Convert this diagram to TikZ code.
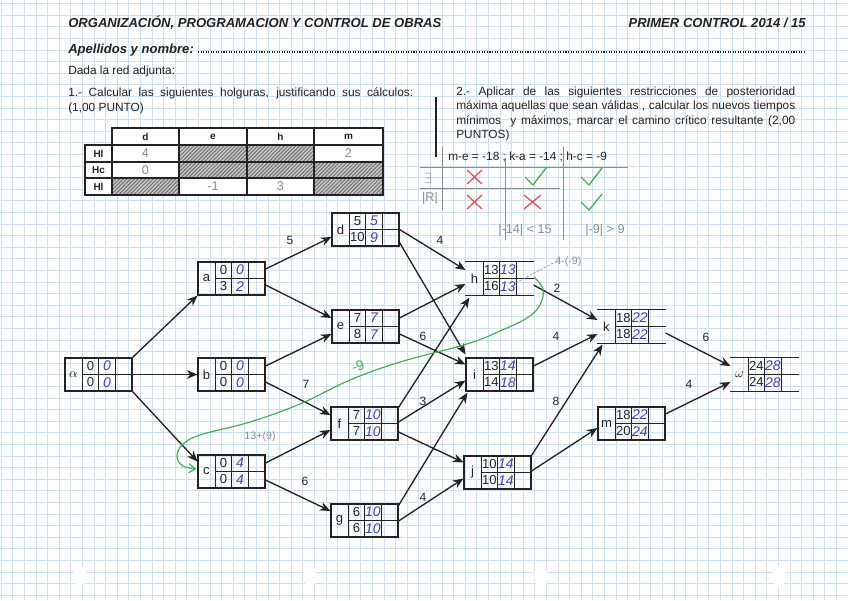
\documentclass[tikz,border=0pt]{standalone}
\usepackage{fontspec}
\setmainfont{Liberation Sans}
\usetikzlibrary{calc,arrows.meta,patterns.meta}
\definecolor{gridblue}{RGB}{203,226,243}
\definecolor{ink}{RGB}{35,35,35}
\definecolor{hand}{RGB}{72,62,178}
\definecolor{pencil}{RGB}{140,140,140}
\definecolor{greenpen}{RGB}{70,175,85}
\definecolor{redpen}{RGB}{225,80,95}
\tikzset{
  gridline/.style={draw=gridblue, line width=0.45pt},
  nbox/.style={minimum width=50.25pt, minimum height=24.75pt, inner sep=0pt, line width=0.8pt},
  inner/.style={draw=ink, line width=0.8pt},
  arr/.style={-{Stealth[length=8pt,width=6.5pt]}, line width=1pt, draw=ink},
  lbl/.style={font=\fontsize{9}{10}\selectfont, text=ink, inner sep=0pt},
  num/.style={font=\fontsize{9.8}{10}\selectfont, text=ink, inner sep=0pt},
  hnum/.style={font=\fontsize{10.5}{10}\selectfont\itshape, text=hand, inner sep=0pt},
  head/.style={anchor=base west, inner sep=0pt, font=\fontsize{9.8}{11}\selectfont\bfseries\itshape, text=ink},
  body/.style={anchor=base west, inner sep=0pt, font=\fontsize{8.9}{10}\selectfont, text=ink},
  tcell/.style={inner sep=0pt, font=\fontsize{7.5}{9}\selectfont\bfseries, text=ink},
  pen/.style={inner sep=0pt, font=\fontsize{9.5}{10}\selectfont, text=pencil},
  hatch/.style={fill=gray!45, postaction={pattern={Lines[angle=45,distance=2pt,line width=0.75pt]}, pattern color=gray!90!black}},
}
% #1 outline, #2 name, #3 x, #4 y (top left, px), #5 letter, #6 top, #7 top hand, #8 bottom, #9 bottom hand
\newcommand{\netbox}[9][draw=ink]{%
  \node[nbox,#1] (#2) at ({#3+33.5},{#4+16.5}) {};
  \draw[inner] (#2.north west) -- (#2.north east) (#2.south west) -- (#2.south east)
    ($(#2.north west)+(18,0)$) -- ($(#2.south west)+(18,0)$)
    ($(#2.north west)+(34,0)$) -- ($(#2.south west)+(34,0)$)
    ($(#2.north west)+(51,0)$) -- ($(#2.south west)+(51,0)$)
    ($(#2.west)+(18,0)$) -- (#2.east);
  \node[num] (#2-l) at ($(#2.west)+(9,0)$) {#5};
  \node[num] (#2-t1) at ($(#2.north west)+(26,8.25)$) {#6};
  \node[hnum] (#2-t2) at ($(#2.north west)+(42.5,8.25)$) {#7};
  \node[num] (#2-b1) at ($(#2.north west)+(26,24.75)$) {#8};
  \node[hnum] (#2-b2) at ($(#2.north west)+(42.5,24.75)$) {#9};
}
\begin{document}
\begin{tikzpicture}[x=0.75pt,y=-0.75pt]
\useasboundingbox (0,0) rectangle (848,600);
\fill[white] (0,0) rectangle (848,600);
% graph paper
\foreach \i in {0,...,73} \draw[gridline] ({1.1+11.6*\i},0) -- ({1.1+11.6*\i},600);
\foreach \j in {0,...,51} \draw[gridline] (0,{3.5+11.6*\j}) -- (848,{3.5+11.6*\j});
% punch holes
\foreach \px in {80,310,541,779} \fill[white] (\px,576) ellipse (7 and 10);

% header
\node[head] (title) at (68,27) {ORGANIZACIÓN, PROGRAMACION Y CONTROL DE OBRAS};
\node[head, anchor=base east] (ctrl) at (806,27) {PRIMER CONTROL 2014 / 15};
\node[head] (apell) at (68,53) {Apellidos y nombre:};
\coordinate (dotend) at (806,52);
\draw[ink, line width=1pt, dash pattern=on 0.8pt off 1.1pt] ($(apell.base east)+(4,-1)$) -- (dotend);
\node[body] (dada) at (68,74) {Dada la red adjunta:};
\node[body] (q1a) at (68,96) {\makebox[258.75pt][s]{1.- Calcular las siguientes holguras, justificando sus cálculos:}};
\node[body] (q1b) at (68,111) {(1,00 PUNTO)};
\node[body] (q2a) at (456,95) {\makebox[254.25pt][s]{2.- Aplicar de las siguientes restricciones de posterioridad}};
\node[body] (q2b) at (456,109.5) {\makebox[254.25pt][s]{máxima aquellas que sean válidas , calcular los nuevos tiempos}};
\node[body] (q2c) at (456,124) {\makebox[254.25pt][s]{mínimos \ y máximos, marcar el camino crítico resultante (2,00}};
\node[body] (q2d) at (456,138.5) {PUNTOS)};
\node[body] (restr) at (448,160) {m-e = -18 ; k-a = -14 ; h-c = -9};
\draw[ink, line width=1.3pt] (436,97) -- (436,157);

% pencil check table
\draw[pencil, line width=0.5pt] (442,147) -- (442,210) (505,158) -- (505,240) (563,147) -- (563,240)
  (420,167) -- (628,167) (420,188) -- (560,188);
\node[pen, font=\fontsize{11}{11}\selectfont] (exists) at (428,178) {$\exists$};
\node[pen] (absr) at (430,198) {|R|};
\draw[redpen, line width=1pt] (467,170) -- (482,184) (482,170) -- (467,184);
\draw[redpen, line width=1pt] (467,195) -- (482,209) (482,195) -- (467,209);
\draw[redpen, line width=1pt] (524,195) -- (541,209) (541,195) -- (524,209);
\draw[greenpen, line width=1pt] (525,177) -- (533,185) -- (546,168);
\draw[greenpen, line width=1pt] (581,177) -- (589,185) -- (602,168);
\draw[greenpen, line width=1pt] (581,202) -- (589,210) -- (602,194);
\node[pen] (cmp1) at (525,230) {|-14| < 15};
\node[pen] (cmp2) at (605,230) {|-9| > 9};

% slack table
\fill[white] (112,128) rectangle (383,145);
\fill[white] (85,145) rectangle (383,195);
\fill[hatch] (179,145) rectangle (314,162);
\fill[hatch] (179,162) rectangle (383,178);
\fill[hatch] (112,178) rectangle (179,195);
\fill[hatch] (314,178) rectangle (383,195);
\draw[ink, line width=0.9pt] (112,128) rectangle (383,195) (85,145) rectangle (112,195)
  (179,128) -- (179,195) (247,128) -- (247,195) (314,128) -- (314,195)
  (85,162) -- (383,162) (85,178) -- (383,178) (112,145) -- (383,145);
\node[tcell] (th-d) at (145.5,136.5) {d};
\node[tcell] (th-e) at (213,136.5) {e};
\node[tcell] (th-h) at (280.5,136.5) {h};
\node[tcell] (th-m) at (348.5,136.5) {m};
\node[tcell] (tr-1) at (98.5,153.5) {Hl};
\node[tcell] (tr-2) at (98.5,170) {Hc};
\node[tcell] (tr-3) at (98.5,186.5) {Hl};
\node[pen] (tv-1) at (145.5,153.5) {4};
\node[pen] (tv-2) at (348.5,153.5) {2};
\node[pen] (tv-3) at (145.5,170) {0};
\node[pen] (tv-4) at (213,186.5) {-1};
\node[pen] (tv-5) at (280.5,186.5) {3};

% network nodes
\netbox{al}{65}{358}{$\alpha$}{0}{0}{0}{0}
\netbox{a}{198}{262}{a}{0}{0}{3}{2}
\netbox{b}{198}{358}{b}{0}{0}{0}{0}
\netbox{c}{198}{455}{c}{0}{4}{0}{4}
\netbox{d}{332}{213}{d}{5}{5}{10}{9}
\netbox{e}{332}{310}{e}{7}{7}{8}{7}
\netbox{f}{331}{407}{f}{7}{10}{7}{10}
\netbox{g}{331}{504}{g}{6}{10}{6}{10}
\netbox[draw=none]{h}{466}{262}{h}{13}{13}{16}{13}
\netbox{i}{466}{358}{i}{13}{14}{14}{18}
\netbox{j}{464}{456}{j}{10}{14}{10}{14}
\netbox[draw=none]{k}{598}{310}{k}{18}{22}{18}{22}
\netbox{m}{598}{407}{m}{18}{22}{20}{24}
\netbox[draw=none]{om}{731}{358}{$\omega$}{24}{28}{24}{28}

% connectors
\draw[arr] (al.north east) -- (a.south west);
\draw[arr] (al.east) -- (b.west);
\draw[arr] (al.south east) -- ($(c.west)+(0,-10)$);
\draw[arr] ($(a.east)+(0,-9.5)$) -- ($(d.west)+(0,7.5)$);
\draw[arr] ($(a.east)+(0,6.5)$) -- ($(e.west)+(0,-8.5)$);
\draw[arr] ($(b.east)+(0,-8.5)$) -- ($(e.west)+(0,7.5)$);
\draw[arr] ($(b.east)+(0,7.5)$) -- ($(f.west)+(0,-8.5)$);
\draw[arr] ($(c.east)+(0,-8.5)$) -- ($(f.west)+(0,6.5)$);
\draw[arr] ($(c.east)+(0,8.5)$) -- ($(g.west)+(0,-9.5)$);
\draw[arr] (d.east) -- ($(h.west)+(0,-8.5)$);
\draw[arr] ($(d.east)+(0,13)$) -- ($(i.north west)+(0,-3)$);
\draw[arr] ($(e.east)+(0,-8.5)$) -- ($(h.west)+(0,5.5)$);
\draw[arr] ($(e.east)+(0,7.5)$) -- ($(i.west)+(0,-10)$);
\draw[arr] ($(f.north east)+(0,1)$) -- ($(h.south west)+(4,2)$);
\draw[arr] ($(f.east)+(0,-1.5)$) -- ($(i.west)+(0,6)$);
\draw[arr] ($(f.east)+(0,8.5)$) -- ($(j.west)+(0,-10)$);
\draw[arr] ($(g.north east)+(0,2)$) -- ($(i.south west)+(2,1)$);
\draw[arr] ($(g.east)+(0,0.5)$) -- ($(j.west)+(0,6)$);
\draw[arr] ($(h.east)+(0,6.5)$) -- ($(k.west)+(0,-6.5)$);
\draw[arr] ($(i.east)+(0,-8.5)$) -- ($(k.west)+(0,7.5)$);
\draw[arr] (j.north east) -- ($(k.south west)+(5,1)$);
\draw[arr] ($(j.east)+(0,-1.5)$) -- ($(m.west)+(0,4.5)$);
\draw[arr] ($(k.east)+(0,6.5)$) -- ($(om.west)+(0,-8.5)$);
\draw[arr] ($(m.east)+(0,-9.5)$) -- ($(om.west)+(0,7.5)$);

% durations
\node[lbl] (w-ad) at (290,240) {5};
\node[lbl] (w-bf) at (306,384) {7};
\node[lbl] (w-cg) at (305,481) {6};
\node[lbl] (w-dh) at (440,240) {4};
\node[lbl] (w-ei) at (423,336) {6};
\node[lbl] (w-fi) at (423,401) {3};
\node[lbl] (w-gj) at (423,497) {4};
\node[lbl] (w-hk) at (557,288) {2};
\node[lbl] (w-ik) at (556,336) {4};
\node[lbl] (w-jk) at (556,401) {8};
\node[lbl] (w-ko) at (706,337) {6};
\node[lbl] (w-mo) at (689,384) {4};

% hand annotations
\coordinate (gstart) at ($(h.east)+(0.5,-1.5)$);
\coordinate (gend) at ($(c.west)+(-1,-2.5)$);
\draw[greenpen, line width=0.9pt, -{Straight Barb[length=5pt,width=7pt]}] plot[smooth, tension=0.6] coordinates {(gstart) (543,289) (540,305) (527,318) (500,331) (467,344) (400,362) (350,380) (300,404) (250,422) (200,435) (182,445) (177,457) (183,466) (gend)};
\node[inner sep=0pt, rotate=20, text=greenpen, font=\fontsize{10.5}{10}\selectfont] (gm9) at (358,366) {-9};
\node[pen, font=\fontsize{8}{9}\selectfont] (p13) at (260,437) {13+(9)};
\node[pen, font=\fontsize{8}{9}\selectfont, anchor=west] (p49) at (555,262) {4-(-9)};
\draw[pencil, line width=0.4pt, dash pattern=on 2pt off 1pt] ($(h.east)+(-18,4.5)$) -- (p49.west);
\end{tikzpicture}
\end{document}
